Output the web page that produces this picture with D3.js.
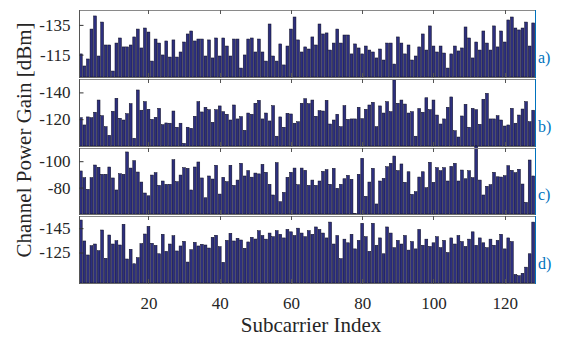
<!DOCTYPE html>
<html><head><meta charset="utf-8">
<script src="https://cdn.jsdelivr.net/npm/d3@7/dist/d3.min.js"></script>
<style>html,body{margin:0;padding:0;background:#fff;}svg{display:block;}</style>
</head><body><svg id="chart" width="562" height="337"></svg>
<script>
const subcarriers = d3.range(1, 129);
const xTicks = [20, 40, 60, 80, 100, 120];
const panelLabels = ["a)", "b)", "c)", "d)"];
const yTicksA = [-135, -115];
const yTicksB = [-140, -120];
const yTicksC = [-100, -80];
const yTicksD = [-145, -125];

const gainA = [-115.5,-107.4,-112.1,-132.2,-141,-114.1,-136.9,-121.5,-121.5,-104,-122.8,-126.2,-120.2,-120.2,-121.5,-126.9,-132.2,-119.5,-132.9,-130.2,-110.7,-125.5,-122.8,-114.8,-124.2,-113.4,-124.9,-113.4,-116.8,-123.5,-128.9,-130.9,-124.2,-125.5,-125.5,-114.1,-124.9,-112.8,-126.2,-114.1,-126.2,-120.8,-114.1,-125.5,-125.5,-106,-114.8,-125.5,-126.2,-116.8,-125.5,-116.8,-110.7,-135.6,-114.1,-110.7,-122.2,-108.1,-120.8,-132.2,-140.3,-124.9,-116.8,-120.2,-118.8,-126.9,-121.5,-135.6,-128.9,-129.6,-118.1,-122.8,-132.2,-122.8,-128.2,-128.2,-115.5,-122.2,-119.5,-115.5,-120.8,-118.1,-116.8,-112.8,-118.8,-111.4,-122.8,-122.8,-108.7,-126.9,-122.8,-115.5,-121.5,-111.4,-114.1,-120.2,-128.9,-118.1,-134.3,-120.8,-116.8,-120.8,-116.1,-106,-115.5,-120.8,-117.5,-119.5,-133.6,-126.2,-112.8,-123.5,-118.1,-130.9,-122.8,-118.1,-134.3,-120.2,-130.9,-123.5,-138.3,-140.3,-132.9,-131.6,-132.9,-136.9,-120.8,-136.3];
const gainB = [-121.1,-115.7,-121.7,-121.1,-125.2,-134.3,-122.6,-114.4,-108,-125.9,-135.6,-120.7,-119.4,-124.1,-131.6,-105.8,-141.8,-126.7,-133.1,-127.4,-119.9,-121.4,-128.1,-115.9,-117.2,-117,-126.1,-114,-117,-102,-114,-113.2,-122.2,-133.1,-125.4,-128.9,-127.1,-117.7,-127.1,-129.9,-125.6,-123.7,-119.4,-130.6,-120.2,-121.9,-111.7,-124.6,-123.7,-131.9,-134.1,-120.2,-124.6,-118.7,-130.1,-107.3,-121.7,-114,-124.4,-123.9,-117,-118.1,-131.9,-135.3,-131.6,-134.3,-122.2,-126.4,-126.1,-134.1,-116.4,-119.4,-123.7,-114.4,-130.1,-119.9,-120.2,-120.2,-128.9,-120.4,-127.4,-130.6,-132.6,-114.4,-129.9,-124.6,-133.1,-125.6,-149.3,-131.9,-134.3,-131.3,-124.6,-125.6,-107.3,-128,-125.2,-136,-127.1,-134.3,-123.1,-116.4,-120.2,-128.9,-136.6,-111.4,-106.7,-122.4,-131.1,-114,-128.1,-127.1,-116.2,-134.9,-139.3,-120.2,-120.2,-122.6,-119.4,-114.9,-115.7,-128.1,-117,-123.1,-127.6,-133.1,-118.1,-126.7];
const gainC = [-92.6,-87.5,-78.7,-87.5,-97.1,-95.4,-90.1,-90.1,-95.6,-87.3,-78.2,-90.5,-90.1,-107,-94.8,-100.4,-91.8,-84.2,-75.9,-73.8,-89.5,-91.3,-81.7,-85,-82.5,-82.5,-101.1,-84.5,-89.5,-95.1,-94.6,-78.2,-95.6,-99.4,-87.3,-72.3,-88.8,-86.5,-96.9,-75.1,-87.8,-84.5,-96.9,-81.7,-85.7,-98.4,-88.8,-92.9,-87.9,-91,-90.4,-97.6,-91.6,-82.5,-74.4,-98.9,-69.3,-76.4,-87.8,-91.6,-94.8,-82.2,-94.8,-93.1,-81.7,-85.7,-81.7,-85,-92.3,-93.6,-82.5,-94.6,-79.5,-82.5,-86.7,-89.3,-86.3,-60.5,-90.1,-102.2,-73.4,-84.2,-94.6,-67.6,-85,-87,-95.8,-98.4,-103.9,-92.9,-97.9,-84,-92,-74.9,-76.9,-88,-92,-79.9,-99.2,-84,-95.1,-92.8,-95.1,-85,-96.1,-98.4,-85,-93.3,-86.7,-92.8,-87.5,-111.5,-85.7,-74.4,-81,-82.2,-91.6,-88.2,-88,-89,-96.6,-93.1,-91.3,-93.9,-82.7,-68.8,-100.9,-88.8];
const gainD = [-151.7,-134.5,-123,-130.6,-132,-126.5,-143.5,-120.3,-139.4,-132,-134.7,-131.2,-148.2,-119.7,-127.7,-115.8,-120.8,-132.3,-140.2,-146.5,-132.6,-130.9,-124,-140,-126,-132,-138.8,-126.3,-130.4,-134.2,-117.2,-127.3,-133.4,-130.4,-131.8,-131.2,-128.7,-137.5,-139.2,-129.8,-117,-135,-140.8,-134.5,-136.7,-135.3,-128.5,-133.7,-137.5,-136.1,-142.9,-139,-136,-141,-138,-143,-140,-137,-144,-142,-139,-145,-141,-138,-143,-140,-146,-144,-141,-137,-150,-132,-139,-120,-136,-133,-140,-128,-135,-149,-138,-126,-149,-131,-137,-124,-146,-141,-129,-135,-132,-139,-127,-134,-128,-144,-131,-136,-130,-133,-138,-129,-135,-125,-137,-132,-139,-134,-130,-136,-142,-131,-137,-133,-129,-136,-131,-135,-140,-128,-137,-134,-107,-106,-108,-113,-124,-150];

const panels = [
  {data: gainA, ticks: yTicksA, dom: [-145, -100], top: 10, bottom: 77},
  {data: gainB, ticks: yTicksB, dom: [-150, -100], top: 79, bottom: 146},
  {data: gainC, ticks: yTicksC, dom: [-110, -60], top: 148, bottom: 214},
  {data: gainD, ticks: yTicksD, dom: [-155, -100], top: 216, bottom: 283}
];

const svg = d3.select("#chart");
const FONT = "'Liberation Serif', 'Times New Roman', serif";
const x = d3.scaleLinear().domain([0.5, 128.5]).range([79, 535]);
const bw = 0.8 * (x(1) - x(0));

panels.forEach((p, k) => {
  const y = d3.scaleLinear().domain(p.dom).range([p.top, p.bottom]);
  const g = svg.append("g");
  g.selectAll("rect.bar").data(p.data).enter().append("rect")
    .attr("class", "bar")
    .attr("x", (d, i) => x(subcarriers[i]) - bw / 2)
    .attr("width", bw)
    .attr("y", d => Math.min(y(d), p.bottom))
    .attr("height", d => Math.max(0, p.bottom - y(d)))
    .attr("fill", "#2d2f7e")
    .attr("stroke", "#0b0b1e")
    .attr("stroke-width", 0.5);
  g.append("line").attr("x1", 79).attr("x2", 535).attr("y1", p.top + 0.5).attr("y2", p.top + 0.5)
    .attr("stroke", "#8a8a8a").attr("stroke-width", 1);
  g.append("line").attr("x1", 79).attr("x2", 535).attr("y1", p.bottom + 0.5).attr("y2", p.bottom + 0.5)
    .attr("stroke", "#6a6a6a").attr("stroke-width", 1);
  g.selectAll("line.tt").data(xTicks).enter().append("line")
    .attr("x1", d => Math.round(x(d)) + 0.5).attr("x2", d => Math.round(x(d)) + 0.5)
    .attr("y1", p.top).attr("y2", p.top + 4).attr("stroke", "#555").attr("stroke-width", 1);
  g.selectAll("line.bt").data(xTicks).enter().append("line")
    .attr("x1", d => Math.round(x(d)) + 0.5).attr("x2", d => Math.round(x(d)) + 0.5)
    .attr("y1", p.bottom - 4).attr("y2", p.bottom + 1).attr("stroke", "#555").attr("stroke-width", 1);
  const ax = d3.axisLeft(y).tickValues(p.ticks).tickSize(-4).tickPadding(9).tickFormat(d => String(d));
  const ag = g.append("g").attr("transform", "translate(79.5,0)").call(ax);
  ag.select(".domain").attr("stroke", "#555").attr("d", `M0,${p.top}V${p.bottom + 1}`);
  ag.selectAll(".tick line").attr("stroke", "#333");
  ag.selectAll(".tick text").attr("font-family", FONT).attr("font-size", 17).attr("fill", "#262626");
  g.append("line").attr("x1", 535.5).attr("x2", 535.5).attr("y1", p.top).attr("y2", p.bottom + 1)
    .attr("stroke", "#0072BD").attr("stroke-width", 1);
  g.append("text").attr("x", 538).attr("y", (p.top + p.bottom) / 2 + 19)
    .attr("font-family", FONT).attr("font-size", 16).attr("fill", "#0072BD")
    .text(panelLabels[k]);
});

const last = panels[3];
const xa = d3.axisBottom(x).tickValues(xTicks).tickSize(0).tickPadding(14).tickFormat(d => String(d));
const xg = svg.append("g").attr("transform", `translate(0,${last.bottom})`).call(xa);
xg.select(".domain").remove();
xg.selectAll(".tick text").attr("font-family", FONT).attr("font-size", 17).attr("fill", "#262626");

svg.append("text").attr("x", 311).attr("y", 332).attr("text-anchor", "middle")
  .attr("font-family", FONT).attr("font-size", 21).attr("fill", "#262626").text("Subcarrier Index");
svg.append("text").attr("transform", "translate(31,140) rotate(-90)").attr("text-anchor", "middle")
  .attr("font-family", FONT).attr("font-size", 21).attr("fill", "#262626").text("Channel Power Gain [dBm]");
</script></body></html>
